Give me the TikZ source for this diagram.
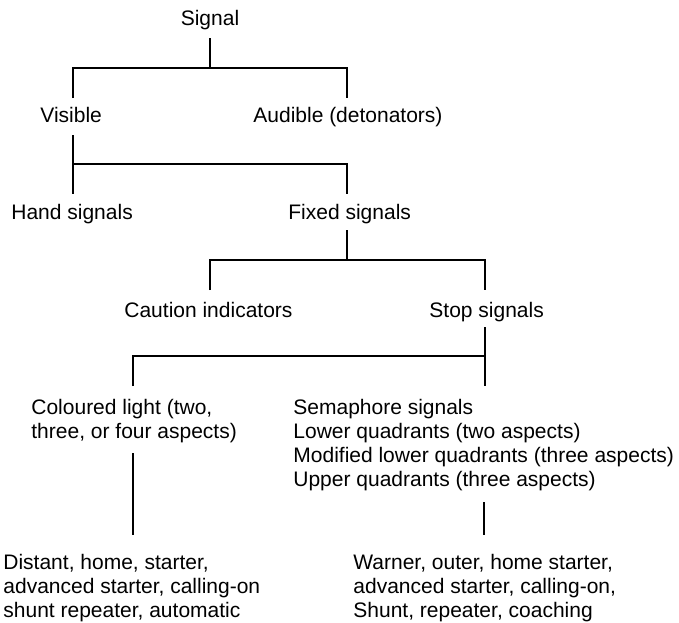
\documentclass[tikz,border=0pt]{standalone}
\usepackage{fontspec}
\setmainfont{Liberation Sans}
\usepackage{tikz}
\usetikzlibrary{positioning}

\tikzset{
  lbl/.style={inner sep=0pt, anchor=base west, align=left,
    font=\fontsize{10.5}{12}\selectfont},
  conn/.style={draw=black, line width=0.6pt}
}

\begin{document}
\begin{tikzpicture}[x=0.5pt, y=-0.5pt]
  \useasboundingbox (0,0) rectangle (679,622);

  % --- Labels (multi-line ones sit on their last line) ---
  \node[lbl, anchor=base] (sig) at (210,25.5) {Signal};
  \node[lbl] (vis)  at (40,122.5)  {Visible};
  \node[lbl] (aud)  at (253,122.5) {Audible (detonators)};
  \node[lbl] (hand) at (11,219.5)  {Hand signals};
  \node[lbl] (fixd) at (288,219.5) {Fixed signals};
  \node[lbl] (caut) at (124,317.5) {Caution indicators};
  \node[lbl] (stop) at (429,317.5) {Stop signals};
  \node[lbl] (col)  at (31,438.5)  {Coloured light (two,\\three, or four aspects)};
  \node[lbl] (sem)  at (293,486.5) {Semaphore signals\\Lower quadrants (two aspects)\\Modified lower quadrants (three aspects)\\Upper quadrants (three aspects)};
  \node[lbl] (dist) at (3,617.5)   {Distant, home, starter,\\advanced starter, calling-on\\shunt repeater, automatic};
  \node[lbl] (warn) at (353,617.5) {Warner, outer, home starter,\\advanced starter, calling-on,\\Shunt, repeater, coaching};

  % --- Connector ends ---
  \coordinate (sigB)  at (210,38);
  \coordinate (j1)    at (210,68);
  \coordinate (visT)  at (73,98);
  \coordinate (audT)  at (347,98);
  \coordinate (visB)  at (73,135);
  \coordinate (j2)    at (73,164);
  \coordinate (handT) at (73,194);
  \coordinate (fixT)  at (347,194);
  \coordinate (fixB)  at (347,230);
  \coordinate (j3)    at (347,260);
  \coordinate (cauT)  at (210,290);
  \coordinate (stopT) at (485,290);
  \coordinate (stopB) at (485,327);
  \coordinate (j4)    at (485,356);
  \coordinate (colT)  at (133,386);
  \coordinate (semT)  at (485,386);
  \coordinate (colB)  at (133,453);
  \coordinate (distT) at (133,535);
  \coordinate (semB)  at (484,502);
  \coordinate (warT)  at (484,535);

  % --- Connectors ---
  \draw[conn] (sigB) -- (j1);
  \draw[conn] (visT) |- (j1) -| (audT);
  \draw[conn] (visB) -- (handT);
  \draw[conn] (j2) -| (fixT);
  \draw[conn] (fixB) -- (j3);
  \draw[conn] (cauT) |- (j3) -| (stopT);
  \draw[conn] (stopB) -- (semT);
  \draw[conn] (colT) |- (j4);
  \draw[conn] (colB) -- (distT);
  \draw[conn] (semB) -- (warT);
\end{tikzpicture}
\end{document}
